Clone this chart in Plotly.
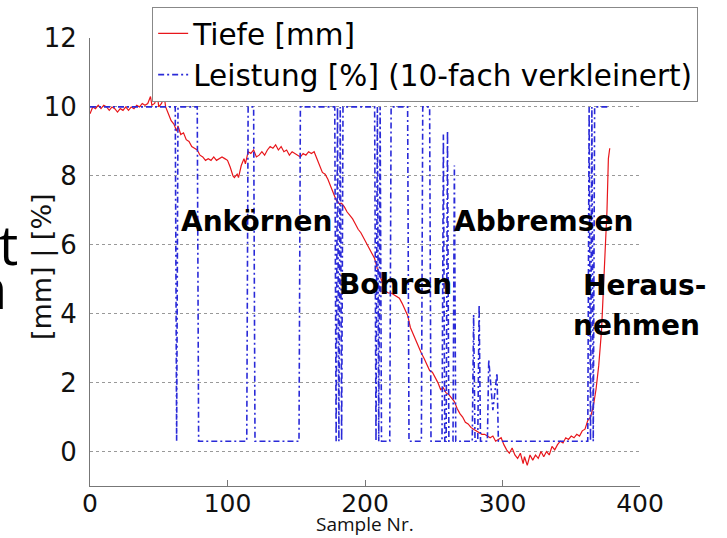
import plotly.graph_objects as go

# ---- Data ----
tiefe_x = [0, 2, 4, 6, 8, 10, 12, 14, 16, 18, 20, 22, 24, 26, 28, 30, 32, 34, 36, 38,
           40, 42, 44, 45, 47, 49, 50, 52, 54, 55, 57, 59, 61, 63, 64, 66, 68, 70, 72, 74,
           76, 78, 80, 82, 84, 86, 88, 90, 92, 94, 96, 98, 100, 102, 104, 105, 107, 108, 110, 112,
           113, 115, 117, 119, 121, 123, 125, 127, 129, 131, 133, 135, 137, 139, 141, 143, 145, 147, 149, 151,
           153, 155, 157, 159, 161, 163, 165, 167, 169, 171, 173, 175, 177, 179, 181, 183, 185, 187, 189, 191,
           193, 195, 197, 199, 201, 203, 205, 207, 209, 211, 213, 215, 217, 219, 221, 223, 225, 227, 229, 231,
           233, 235, 237, 239, 241, 243, 245, 247, 249, 251, 253, 255, 257, 259, 261, 263, 265, 267, 269, 271,
           273, 275, 277, 279, 281, 283, 285, 287, 289, 291, 293, 295, 297, 299, 301, 303, 305, 307, 309, 311,
           313, 315, 316, 318, 320, 322, 324, 326, 328, 330, 332, 334, 336, 338, 340, 342, 344, 346, 348, 350,
           352, 354, 356, 358, 360, 362, 364, 366, 368, 370, 372, 374, 376, 377, 378]
tiefe_y = [9.8, 10.0, 9.95, 10.05, 9.95, 10.05, 10.0, 9.9, 10.0, 9.95, 9.85, 9.95, 9.9, 10.0, 9.9, 10.0, 9.95, 10.05, 10.0, 10.1,
           10.05, 10.1, 10.3, 10.05, 10.1, 10.35, 10.0, 10.1, 10.3, 10.0, 9.8, 9.6, 9.5, 9.3, 9.45, 9.2, 9.25, 9.05, 9.0, 8.85,
           8.8, 8.75, 8.6, 8.55, 8.45, 8.5, 8.45, 8.55, 8.45, 8.5, 8.55, 8.5, 8.45, 8.25, 8.0, 7.95, 8.05, 7.95, 8.3, 8.5,
           8.35, 8.7, 8.65, 8.75, 8.55, 8.6, 8.7, 8.6, 8.75, 8.85, 8.8, 8.9, 8.75, 8.85, 8.7, 8.75, 8.6, 8.7, 8.65, 8.6,
           8.55, 8.65, 8.6, 8.7, 8.65, 8.7, 8.5, 8.3, 8.1, 8.05, 7.9, 7.7, 7.5, 7.3, 7.2, 7.2, 7.1, 6.95, 6.85, 6.75,
           6.6, 6.45, 6.35, 6.2, 6.05, 5.9, 5.75, 5.6, 5.3, 5.1, 4.85, 4.65, 4.6, 4.6, 4.55, 4.5, 4.45, 4.3, 4.1, 3.95,
           3.6, 3.4, 3.2, 3.0, 2.85, 2.7, 2.5, 2.35, 2.3, 2.15, 2.0, 1.8, 1.85, 1.7, 1.65, 1.55, 1.45, 1.25, 1.1, 1.0,
           0.85, 0.8, 0.7, 0.65, 0.6, 0.55, 0.5, 0.5, 0.45, 0.4, 0.45, 0.3, 0.35, 0.4, 0.2, 0.05, -0.05, 0.1, -0.1, -0.2,
           -0.05, -0.35, -0.15, -0.4, -0.1, -0.25, -0.1, -0.2, 0.0, -0.15, 0.0, -0.1, 0.15, 0.05, 0.2, 0.3, 0.25, 0.4, 0.35, 0.45,
           0.4, 0.5, 0.45, 0.6, 0.65, 0.9, 1.0, 1.3, 1.8, 2.5, 3.5, 5.2, 7.0, 8.5, 8.8]

leistung_x = [0, 62, 63, 64, 78, 79, 114, 115, 119, 120, 152, 153,
              178, 179, 180, 181, 182, 183, 184,
              207, 208, 209, 210, 211, 212, 218, 219, 231, 232, 241, 242, 247, 248,
              256, 257, 258, 259, 260, 261, 264, 265, 266,
              278, 279, 280, 282, 283, 284, 289, 290, 293, 296, 297,
              362, 363, 364, 365, 366, 367, 378]
leistung_y = [10, 10, 0.3, 10, 10, 0.3, 0.3, 10, 10, 0.3, 0.3, 10,
              10, 0.3, 10, 0.3, 10, 0.3, 10,
              10, 0.3, 10, 0.3, 10, 0.3, 0.3, 10, 10, 0.3, 0.3, 10, 10, 0.3,
              0.3, 9.2, 0.3, 0.3, 9.3, 0.3, 0.3, 8.3, 0.3,
              0.3, 3.97, 0.3, 0.3, 4.25, 0.3, 0.3, 2.66, 1.2, 2.28, 0.3,
              0.3, 10, 0.3, 10, 0.3, 10, 10]

x_ticks = [0, 100, 200, 300, 400]
y_ticks = [0, 2, 4, 6, 8, 10, 12]

phase_labels = ["Ankörnen", "Bohren", "Abbremsen", "Heraus-", "nehmen"]
phase_x = [121, 222.5, 330, 357, 350]
phase_y = [6.67, 4.84, 6.67, 4.81, 3.65]
phase_anchor = ["center", "center", "center", "left", "left"]

# ---- Figure ----
fig = go.Figure()
fig.add_trace(go.Scatter(x=tiefe_x, y=tiefe_y, mode="lines", name="Tiefe [mm]",
                         line=dict(color="#e8161b", width=1.2)))
fig.add_trace(go.Scatter(x=leistung_x, y=leistung_y, mode="lines",
                         name="Leistung [%] (10-fach verkleinert)",
                         line=dict(color="#2a2ad8", width=1.6, dash="6px,3px,2px,3px")))

for lab, px, py, anc in zip(phase_labels, phase_x, phase_y, phase_anchor):
    fig.add_annotation(x=px, y=py, xref="x", yref="y", text=lab, showarrow=False,
                       xanchor=anc, yanchor="middle",
                       font=dict(family="DejaVu Sans", size=28, color="black", weight="bold"))

# axis titles as annotations
fig.add_annotation(x=-0.087, y=0.489, xref="paper", yref="paper", text="[mm] | [%]",
                   textangle=-90, showarrow=False, xanchor="center", yanchor="middle",
                   font=dict(family="DejaVu Sans", size=27, color="#111"))
fig.add_annotation(x=0.5, y=-0.084, xref="paper", yref="paper", text="Sample Nr.",
                   showarrow=False, xanchor="center", yanchor="middle",
                   font=dict(family="Open Sans", size=19, color="#111"))

# partial slide text at the left edge
fig.add_annotation(x=(20 - 90) / 550, y=(486 - 244) / 447.7, xref="paper", yref="paper", text="t",
                   showarrow=False, xanchor="right", yanchor="middle",
                   font=dict(family="Open Sans", size=54, color="black"))
fig.add_annotation(x=(9 - 90) / 550, y=(486 - 287) / 447.7, xref="paper", yref="paper", text="n",
                   showarrow=False, xanchor="right", yanchor="middle",
                   font=dict(family="Open Sans", size=56, color="black"))

fig.update_layout(
    width=727, height=538,
    margin=dict(l=90, r=87, t=38, b=52, autoexpand=False),
    paper_bgcolor="white", plot_bgcolor="white",
    showlegend=True,
    legend=dict(x=0.113, y=1.07, xanchor="left", yanchor="top",
                bgcolor="white", bordercolor="#888", borderwidth=1,
                font=dict(family="DejaVu Sans", size=29.5, color="black"),
                tracegroupgap=0, itemwidth=30),
)
fig.update_xaxes(range=[0, 400], tickvals=x_ticks, ticks="inside", ticklen=6,
                 tickcolor="#777", showline=True, linecolor="#777", linewidth=1,
                 showgrid=False, zeroline=False, automargin=False,
                 ticklabelstandoff=-5,
                 tickfont=dict(family="DejaVu Sans", size=25, color="#111"))
fig.update_yaxes(range=[-1, 12], tickvals=y_ticks, ticks="", showline=True,
                 linecolor="#777", linewidth=1, showgrid=True, gridcolor="#999",
                 griddash="dot", gridwidth=1, zeroline=False, automargin=False,
                 ticklabelstandoff=7,
                 tickfont=dict(family="DejaVu Sans", size=26, color="#111"))

fig.write_html("out.html", config={"displayModeBar": False},
               post_script="document.body.style.margin='0';")
